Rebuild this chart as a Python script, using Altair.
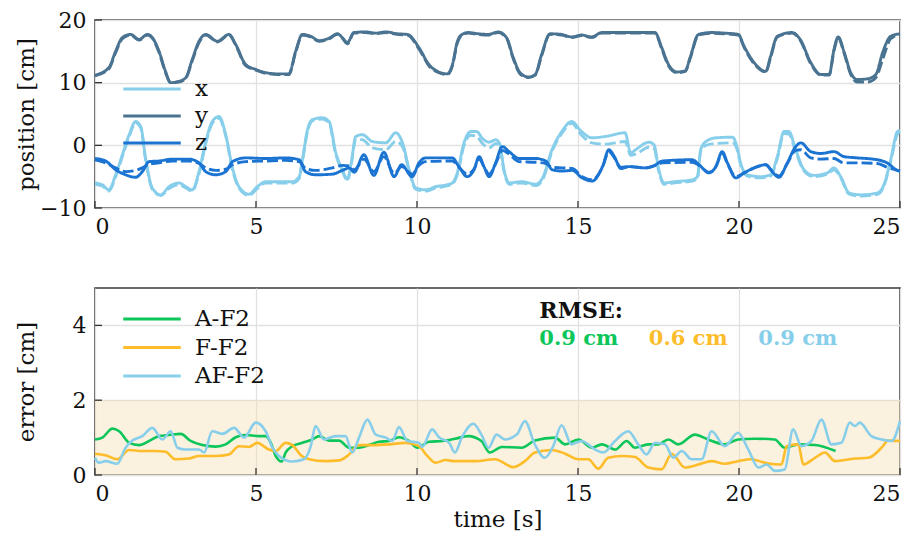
import altair as alt
import pandas as pd

# ---------------- top panel: position ----------------
X_T = [0, 0.23, 0.43, 0.64, 0.85, 1.06, 1.26, 1.42, 1.57, 1.78, 2.04, 2.3, 2.61, 2.82, 3.02, 3.23, 3.44, 3.64, 3.85, 4.06,
       4.27, 4.47, 4.78, 5.04, 5.3, 5.71, 6.13, 6.34, 6.45, 6.6, 6.75, 7.06, 7.27, 7.47, 7.68, 7.84, 7.95, 8.1, 8.3, 8.62,
       9.03, 9.34, 9.55, 9.76, 9.96, 10.27, 10.58, 11.0, 11.1, 11.25, 11.46, 11.67, 11.85, 12.05, 12.24, 12.45, 12.57, 12.7, 12.86, 13.25,
       13.69, 13.89, 14.2, 14.51, 14.8, 15.11, 15.43, 15.84, 16.46, 16.64, 16.79, 17.2, 17.36, 17.51, 17.67, 18.0, 18.55, 18.71, 18.81, 18.97,
       19.28, 19.8, 19.96, 20.05, 20.26, 20.67, 20.98, 21.19, 21.4, 21.55, 21.76, 22.02, 22.33, 22.74, 22.95, 23.16, 23.42, 23.78, 24.3, 24.5,
       24.71, 24.92, 25.0]
X_SOLID = [-6.0, -6.3, -7.1, -4.7, -1.5, 1.7, 3.8, 3.0, -2.0, -6.8, -7.9, -6.6, -6.0, -6.6, -7.1, -4.2, 0.6, 3.8, 4.6, 1.7,
           -3.6, -6.6, -7.8, -6.6, -5.8, -5.8, -5.8, -5.0, -2.0, 2.5, 4.1, 4.4, 3.8, -1.0, -3.9, -5.4, -3.0, 1.4, 1.7, 0.6,
           0.4, 2.0, 0.4, -3.9, -6.8, -7.1, -6.6, -6.2, -6.0, -4.4, 0.4, 2.2, 2.2, 1.0, 0.5, 0.9, 0.2, -3.8, -6.0, -5.8,
           -6.2, -5.3, -0.6, 2.3, 3.8, 2.2, 1.2, 1.4, 2.0, -1.2, -0.7, 0.5, 0.1, -3.9, -6.0, -5.8, -5.5, -5.0, -0.7, 0.6,
           1.2, 1.3, -0.7, -2.8, -4.7, -5.0, -4.7, -1.8, 2.2, 2.2, -0.7, -3.9, -4.8, -4.4, -3.6, -5.0, -7.6, -7.9, -7.6, -6.3,
           -2.3, 2.2, 2.4]
X_DASH = [-6.2, -6.5, -7.3, -5.0, -1.8, 1.4, 3.6, 2.8, -2.3, -7.0, -8.0, -6.9, -6.3, -6.8, -7.3, -4.5, 0.3, 3.5, 4.3, 1.5,
          -3.9, -6.8, -8.0, -6.9, -6.0, -6.0, -6.0, -5.3, -2.3, 2.2, 3.9, 4.2, 3.6, -1.3, -4.1, -5.6, -3.3, 1.0, 0.9, -0.4,
          -0.7, 0.6, -0.2, -4.2, -7.0, -7.3, -6.8, -6.4, -6.2, -4.7, 0.0, 1.6, 1.4, 0.2, -0.4, 0.3, -0.2, -4.1, -6.2, -6.0,
          -6.4, -5.6, -0.9, 2.0, 3.5, 1.6, 0.4, 0.2, 0.6, -1.6, -1.4, -0.3, -0.5, -4.2, -6.2, -6.0, -5.7, -5.2, -1.0, 0.0,
          0.3, 0.4, -1.0, -3.1, -4.9, -5.2, -4.9, -2.1, 1.9, 1.8, -1.0, -4.1, -5.0, -4.6, -3.9, -5.2, -7.8, -8.1, -7.8, -6.5,
          -2.6, 1.8, 2.2]

Y_T = [0, 0.43, 0.64, 0.85, 1.1, 1.37, 1.63, 1.78, 1.99, 2.19, 2.35, 2.6, 2.82, 3.02, 3.23, 3.44, 3.8, 4.16, 4.37, 4.68,
       5.0, 5.3, 5.71, 6.02, 6.23, 6.44, 6.7, 6.96, 7.27, 7.53, 7.68, 7.84, 8.04, 8.4, 8.72, 9.03, 9.39, 9.7, 10.06, 10.37,
       10.68, 10.94, 11.1, 11.25, 11.4, 11.59, 11.9, 12.22, 12.52, 12.78, 12.99, 13.2, 13.46, 13.67, 13.87, 14.13, 14.49, 14.8, 15.11, 15.43,
       15.74, 16.36, 16.98, 17.39, 17.6, 17.81, 18.07, 18.33, 18.48, 18.74, 19.15, 19.57, 19.98, 20.15, 20.47, 20.83, 20.98, 21.19, 21.65, 21.9,
       22.23, 22.54, 22.8, 22.95, 23.08, 23.27, 23.47, 23.67, 23.98, 24.25, 24.46, 24.71, 25.0]
Y_SOLID = [11.2, 12.4, 15.0, 17.2, 17.7, 16.9, 17.7, 17.2, 15.0, 11.8, 10.0, 10.2, 10.8, 13.7, 16.6, 17.7, 16.6, 17.7, 16.1, 12.9,
           12.1, 11.6, 11.4, 11.4, 15.0, 17.7, 17.4, 16.7, 17.1, 17.8, 17.2, 16.4, 18.0, 18.1, 17.9, 18.1, 17.8, 17.7, 15.6, 12.9,
           11.7, 11.4, 12.9, 16.5, 17.7, 18.0, 17.8, 17.7, 18.1, 17.2, 14.0, 11.6, 10.9, 11.3, 14.5, 17.8, 17.7, 17.3, 17.6, 17.3,
           18.0, 18.0, 18.0, 18.0, 15.6, 12.9, 11.7, 11.9, 14.0, 17.7, 18.0, 17.9, 17.7, 15.9, 13.2, 11.8, 14.2, 17.4, 18.0, 16.9,
           13.2, 11.3, 11.3, 15.3, 17.3, 14.8, 11.6, 10.5, 10.6, 11.3, 14.8, 17.4, 17.8]
Y_DASH = [11.1, 12.2, 14.8, 17.0, 17.6, 16.8, 17.6, 17.1, 14.8, 11.6, 10.0, 10.1, 10.7, 13.5, 16.4, 17.6, 16.5, 17.6, 16.0, 12.7,
          12.0, 11.5, 11.3, 11.3, 14.8, 17.6, 17.3, 16.6, 17.0, 17.7, 17.1, 16.2, 17.9, 18.0, 17.8, 18.0, 17.7, 17.6, 15.4, 12.7,
          11.6, 11.3, 12.7, 16.3, 17.6, 17.9, 17.7, 17.6, 18.0, 17.1, 13.8, 11.4, 10.8, 11.2, 14.3, 17.7, 17.6, 17.2, 17.5, 17.2,
          17.9, 17.9, 17.9, 17.9, 15.4, 12.7, 11.6, 11.8, 13.8, 17.6, 17.9, 17.8, 17.6, 15.7, 13.0, 11.7, 14.0, 17.3, 17.9, 16.8,
          13.0, 11.2, 11.2, 15.1, 17.2, 14.6, 11.3, 10.1, 10.1, 10.8, 13.7, 17.0, 17.7]

Z_T = [0, 0.33, 0.64, 0.95, 1.26, 1.47, 1.68, 1.99, 2.4, 2.92, 3.23, 3.44, 3.75, 4.06, 4.27, 4.68, 5.3, 5.92, 6.34, 6.54,
       6.85, 7.37, 7.68, 7.9, 8.05, 8.35, 8.66, 8.97, 9.29, 9.52, 9.85, 10.06, 10.27, 11.1, 11.3, 11.56, 11.77, 11.93, 12.08, 12.24,
       12.44, 12.65, 12.86, 13.17, 13.69, 14.0, 14.2, 14.51, 14.82, 15.13, 15.44, 15.76, 15.96, 16.12, 16.33, 16.58, 17.1, 17.41, 17.62, 18.55,
       18.76, 19.07, 19.28, 19.48, 19.64, 19.9, 20.16, 20.47, 20.83, 21.03, 21.24, 21.5, 21.76, 21.92, 22.23, 22.54, 22.95, 23.26, 23.67, 24.3,
       24.6, 24.92, 25.0]
Z_SOLID = [-2.1, -2.5, -3.9, -4.7, -5.1, -4.2, -2.6, -2.5, -2.2, -2.2, -2.8, -4.2, -4.7, -4.2, -2.6, -2.0, -2.1, -2.0, -2.3, -4.2,
           -4.7, -4.6, -4.0, -3.6, -4.3, -1.5, -4.8, -1.1, -5.0, -3.1, -5.0, -2.8, -2.0, -2.0, -3.4, -5.0, -3.9, -1.8, -3.4, -5.0,
           -2.8, -0.2, -1.0, -2.1, -2.1, -2.5, -3.9, -4.1, -4.0, -5.2, -5.7, -3.4, -0.7, -1.7, -3.7, -3.4, -3.6, -3.1, -2.5, -2.3,
           -3.1, -4.4, -3.4, -1.0, -2.8, -5.2, -4.4, -3.6, -3.1, -4.2, -5.1, -2.8, -0.2, 0.4, -1.0, -1.3, -1.0, -1.8, -2.0, -2.3,
           -2.8, -4.0, -4.1]
Z_DASH = [-2.3, -2.8, -3.6, -4.2, -4.0, -3.6, -3.0, -2.8, -2.5, -2.5, -2.9, -3.6, -4.0, -3.8, -3.1, -2.6, -2.5, -2.4, -2.6, -3.7,
          -4.0, -3.6, -3.2, -3.3, -3.9, -2.2, -4.2, -1.8, -4.5, -3.4, -4.6, -3.2, -2.6, -2.5, -3.5, -4.6, -3.8, -2.2, -3.4, -4.6,
          -3.0, -0.8, -1.4, -2.6, -2.7, -2.9, -3.5, -3.6, -3.7, -5.0, -5.5, -3.5, -1.0, -1.9, -3.5, -3.4, -3.6, -3.2, -2.8, -2.7,
          -3.2, -4.3, -3.4, -1.3, -2.9, -5.0, -4.4, -3.6, -3.1, -4.1, -4.9, -2.9, -0.8, -0.7, -2.0, -2.2, -2.1, -2.8, -2.8, -2.9,
          -3.5, -4.0, -4.1]

# ---------------- bottom panel: error ----------------
AF_T = [0, 0.23, 0.54, 0.75, 1.06, 1.37, 1.68, 1.99, 2.3, 2.66, 2.97, 3.33, 3.75, 4.06, 4.37, 4.68, 5.09, 5.3, 5.46, 5.61,
        5.8, 5.92, 6.13, 6.44, 6.75, 6.96, 7.27, 7.58, 7.89, 8.2, 8.51, 8.82, 9.13, 9.44, 9.75, 10.01, 10.37, 10.79, 11.18, 11.59,
        12.0, 12.26, 12.63, 13.25, 13.66, 14.29, 14.6, 15.01, 15.43, 15.74, 16.15, 16.51, 16.77, 17.18, 17.49, 17.81, 18.11, 18.63, 19.04, 19.56,
        19.97, 20.49, 21.11, 21.42, 21.84, 22.36, 23.0]
AF_ERR = [0.95, 1.0, 1.24, 1.17, 0.86, 0.8, 0.91, 1.04, 1.07, 1.1, 0.91, 0.8, 0.76, 0.82, 1.01, 1.07, 1.04, 1.04, 0.86, 0.51,
          0.36, 0.6, 0.77, 0.86, 0.95, 1.04, 0.92, 0.92, 0.73, 0.73, 0.8, 0.89, 0.91, 1.01, 0.91, 0.73, 0.89, 0.91, 0.97, 1.04,
          0.91, 0.6, 0.75, 0.73, 0.92, 1.0, 0.82, 0.95, 0.73, 0.82, 0.68, 0.91, 0.73, 0.82, 0.82, 0.95, 0.82, 1.08, 0.95, 0.82,
          0.95, 0.97, 0.95, 0.73, 0.82, 0.8, 0.64]

FF_T = [0, 0.33, 0.69, 1.06, 1.47, 1.88, 2.19, 2.5, 2.92, 3.23, 3.75, 4.16, 4.47, 4.78, 5.04, 5.4, 5.61, 5.92, 6.13, 6.39,
        6.65, 7.16, 7.58, 7.84, 8.2, 8.61, 9.13, 9.65, 10.06, 10.32, 10.58, 10.89, 11.18, 11.8, 12.42, 12.99, 13.35, 13.66, 14.18, 14.6,
        15.01, 15.32, 15.63, 15.94, 16.36, 16.77, 17.18, 17.6, 17.91, 18.32, 18.74, 19.15, 19.56, 19.97, 20.39, 20.8, 21.32, 21.48, 21.84, 22.0,
        22.36, 22.67, 22.98, 23.6, 24.02, 24.43, 24.63, 25.0]
FF_ERR = [0.57, 0.53, 0.42, 0.67, 0.64, 0.64, 0.62, 0.42, 0.44, 0.51, 0.51, 0.55, 0.77, 0.75, 0.86, 0.68, 0.64, 0.86, 0.8, 0.53,
          0.42, 0.37, 0.39, 0.51, 0.8, 0.8, 0.82, 0.86, 0.77, 0.51, 0.33, 0.4, 0.37, 0.37, 0.42, 0.21, 0.37, 0.6, 0.67, 0.57,
          0.42, 0.42, 0.17, 0.46, 0.51, 0.48, 0.2, 0.15, 0.57, 0.2, 0.28, 0.37, 0.3, 0.37, 0.42, 0.33, 0.28, 0.77, 0.82, 0.28,
          0.46, 0.6, 0.37, 0.44, 0.46, 0.73, 0.92, 0.91]

AFF_T = [0, 0.12, 0.33, 0.69, 0.95, 1.16, 1.47, 1.78, 2.09, 2.35, 2.56, 2.82, 3.23, 3.39, 3.64, 3.95, 4.32, 4.63, 4.99, 5.3,
         5.51, 5.71, 6.13, 6.49, 6.7, 6.85, 7.11, 7.47, 7.78, 7.99, 8.2, 8.46, 8.72, 9.03, 9.23, 9.44, 9.7, 10.06, 10.16, 10.47,
         10.68, 11.0, 11.18, 11.39, 11.75, 12.0, 12.22, 12.47, 12.73, 13.1, 13.35, 13.66, 13.97, 14.23, 14.49, 14.8, 15.11, 15.53, 15.79, 16.15,
         16.56, 16.87, 17.13, 17.39, 17.7, 17.96, 18.22, 18.53, 18.84, 19.15, 19.56, 19.97, 20.29, 20.6, 20.86, 21.11, 21.42, 21.68, 21.94, 22.25,
         22.56, 22.87, 23.18, 23.44, 23.6, 23.75, 24.11, 24.43, 24.74, 25.0]
AFF_ERR = [0.46, 0.33, 0.37, 0.3, 0.73, 0.92, 1.04, 1.26, 0.95, 1.17, 0.73, 0.68, 0.68, 0.6, 1.17, 1.1, 1.26, 1.0, 1.4, 1.17,
           0.73, 0.51, 0.36, 0.42, 0.77, 1.31, 0.95, 1.04, 1.04, 0.6, 1.0, 1.48, 1.08, 1.0, 0.91, 1.28, 0.91, 0.86, 0.75, 1.22,
           1.01, 0.86, 0.6, 1.0, 1.37, 1.08, 0.73, 1.08, 0.95, 1.08, 1.44, 0.82, 0.46, 0.77, 1.33, 0.82, 0.91, 0.68, 0.6, 0.91,
           1.17, 0.82, 0.55, 0.86, 0.82, 0.46, 0.64, 0.42, 0.42, 1.17, 0.77, 1.13, 0.68, 0.2, 0.28, 0.11, 0.15, 1.22, 0.77, 0.91,
           1.48, 0.82, 0.86, 1.4, 1.31, 1.4, 1.04, 0.95, 0.91, 1.44]

POS_NAMES = ["x", "y", "z"]
POS_COLORS = ["#87ceeb", "#4a7391", "#1c74d2"]
ERR_NAMES = ["A-F2", "F-F2", "AF-F2"]
ERR_COLORS = ["#0cc65a", "#fdbd2a", "#87ceeb"]
RMSE_LABELS = ["0.9 cm", "0.6 cm", "0.9 cm"]
X_TICKS = [0, 5, 10, 15, 20, 25]
POS_TICKS = [-10, 0, 10, 20]
ERR_TICKS = [0, 2, 4]

FONT = "DejaVu Serif"
W, H1, H2 = 805, 188, 187
LEGEND_LINE = "M-2.5,0H2.5"

rows = []
for name, T, S, D in [("x", X_T, X_SOLID, X_DASH), ("y", Y_T, Y_SOLID, Y_DASH), ("z", Z_T, Z_SOLID, Z_DASH)]:
    for i, (t, v) in enumerate(zip(T, D)):
        rows.append(dict(t=t, v=v, axis=name, kind="dashed", key=name + "d", o=i))
    for i, (t, v) in enumerate(zip(T, S)):
        rows.append(dict(t=t, v=v, axis=name, kind="solid", key=name + "s", o=i))
pos_df = pd.DataFrame(rows)

erows = []
for name, T, E in [("A-F2", AF_T, AF_ERR), ("F-F2", FF_T, FF_ERR), ("AF-F2", AFF_T, AFF_ERR)]:
    for i, (t, v) in enumerate(zip(T, E)):
        erows.append(dict(t=t, v=v, method=name, o=i))
err_df = pd.DataFrame(erows)

xscale = alt.Scale(domain=[0, 25], nice=False, zero=False)


def xaxis(title):
    kw = dict(values=X_TICKS, grid=True, gridColor="#e1e1e1", gridWidth=1.3, ticks=False, labelPadding=8,
              labelFont=FONT, labelFontSize=22, labelColor="#111", domain=False)
    if title:
        kw.update(title=title, titleFont=FONT, titleFontSize=23, titleFontWeight="normal", titleColor="#111",
                  titlePadding=4)
    else:
        kw.update(title=None)
    return alt.Axis(**kw)


def yaxis(title, vals, h):
    return alt.Axis(values=vals, grid=True, gridColor="#e1e1e1", gridWidth=1.3, ticks=False, labelPadding=9,
                    labelFont=FONT, labelFontSize=22, labelColor="#111", domain=False, title=title,
                    titleFont=FONT, titleFontSize=23, titleFontWeight="normal", titleColor="#111",
                    titleX=-69, titleY=h / 2, titleAlign="center", titleBaseline="middle", titleAngle=270)


def legend(y, font_size, row_pad):
    return alt.Legend(orient="none", legendX=44, legendY=y, title=None, symbolType=LEGEND_LINE,
                      symbolSize=529, symbolStrokeWidth=3, labelFont=FONT, labelFontSize=font_size,
                      labelColor="#111", rowPadding=row_pad, labelOffset=30, padding=0)


# ---------- top ----------
pos_lines = alt.Chart(pos_df).mark_line(strokeWidth=2.9, interpolate="monotone").encode(
    x=alt.X("t:Q", scale=xscale, axis=xaxis(None)),
    y=alt.Y("v:Q", scale=alt.Scale(domain=[-10, 20], nice=False), axis=yaxis("position [cm]", POS_TICKS, H1)),
    color=alt.Color("axis:N", scale=alt.Scale(domain=POS_NAMES, range=POS_COLORS), legend=legend(56, 23, 2)),
    strokeDash=alt.StrokeDash("kind:N", scale=alt.Scale(domain=["solid", "dashed"], range=[[1, 0], [11, 4]]),
                              legend=None),
    detail="key:N",
    order="o:Q",
)
tick_df_x = pd.DataFrame({"t": X_TICKS})
pos_xticks = alt.Chart(tick_df_x).mark_rule(color="#333", strokeWidth=1.3).encode(
    x=alt.X("t:Q", scale=xscale), y=alt.value(H1), y2=alt.value(H1 - 7))
pos_yticks = alt.Chart(pd.DataFrame({"v": POS_TICKS})).mark_rule(color="#333", strokeWidth=1.3).encode(
    y=alt.Y("v:Q", scale=alt.Scale(domain=[-10, 20], nice=False)), x=alt.value(0), x2=alt.value(7))

top = alt.layer(pos_lines, pos_xticks, pos_yticks).properties(width=W, height=H1)

# ---------- bottom ----------
yscale_e = alt.Scale(domain=[0, 5], nice=False)
band = alt.Chart(pd.DataFrame({"a": [0]})).mark_rect(color="#f5deb3", opacity=0.42).encode(
    x=alt.datum(0, scale=xscale), x2=alt.datum(25), y=alt.datum(0, scale=yscale_e), y2=alt.datum(2))
err_lines = alt.Chart(err_df).mark_line(strokeWidth=2.6, interpolate="monotone").encode(
    x=alt.X("t:Q", scale=xscale, axis=xaxis("time [s]")),
    y=alt.Y("v:Q", scale=yscale_e, axis=yaxis("error [cm]", ERR_TICKS, H2)),
    color=alt.Color("method:N", scale=alt.Scale(domain=ERR_NAMES, range=ERR_COLORS), legend=legend(18, 23, 3.5)),
    order="o:Q",
)
err_xticks = alt.Chart(tick_df_x).mark_rule(color="#333", strokeWidth=1.3).encode(
    x=alt.X("t:Q", scale=xscale), y=alt.value(H2), y2=alt.value(H2 - 7))
err_yticks = alt.Chart(pd.DataFrame({"v": ERR_TICKS})).mark_rule(color="#333", strokeWidth=1.3).encode(
    y=alt.Y("v:Q", scale=yscale_e), x=alt.value(0), x2=alt.value(7))

rmse_title = alt.Chart(pd.DataFrame({"s": ["RMSE:"]})).mark_text(
    font=FONT, fontSize=22, fontWeight="bold", color="#111", align="left", baseline="alphabetic").encode(
    x=alt.datum(13.8, scale=xscale), y=alt.datum(4.2, scale=yscale_e), text="s:N")
rmse_df = pd.DataFrame({"s": RMSE_LABELS, "m": ERR_NAMES, "xpos": [13.8, 17.2, 20.6]})
rmse_vals = alt.Chart(rmse_df).mark_text(
    font=FONT, fontSize=21, fontWeight="bold", align="left", baseline="alphabetic").encode(
    x=alt.X("xpos:Q", scale=xscale), y=alt.datum(3.47, scale=yscale_e), text="s:N",
    color=alt.Color("m:N", scale=alt.Scale(domain=ERR_NAMES, range=ERR_COLORS), legend=None))

bottom = alt.layer(band, err_lines, err_xticks, err_yticks, rmse_title, rmse_vals).properties(width=W, height=H2)

chart = alt.vconcat(top, bottom, spacing=80, bounds="flush").resolve_scale(
    color="independent", strokeDash="independent").resolve_legend(color="independent").properties(
    padding={"left": 14, "top": 8, "right": 5, "bottom": 5},
    background="white",
).configure_view(stroke="#3a3a3a", strokeWidth=1.6)

chart.save("out.html", embed_options={"renderer": "svg", "actions": False})
